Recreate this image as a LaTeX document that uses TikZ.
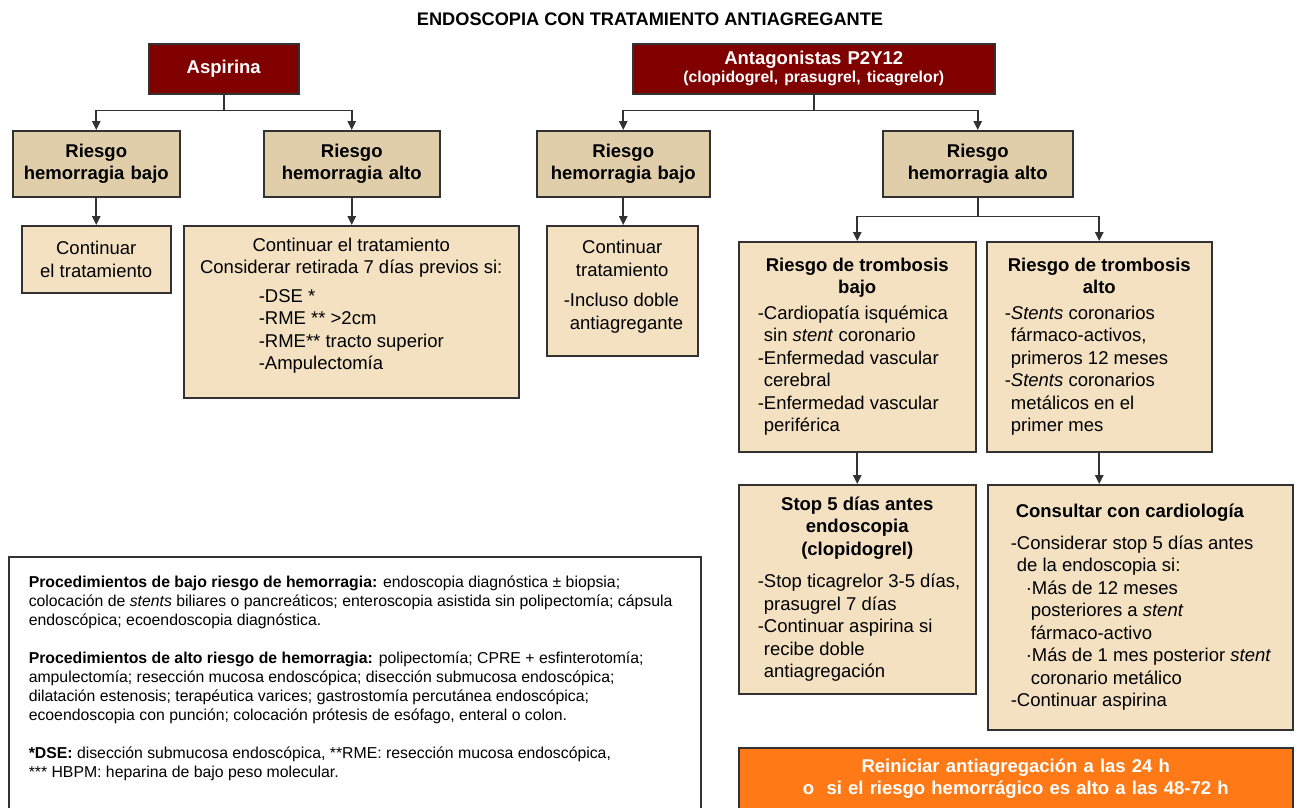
\documentclass[tikz,border=0pt]{standalone}
\usepackage{fontspec}
\setmainfont{Liberation Sans}
\usetikzlibrary{arrows.meta}
\definecolor{granate}{RGB}{128,0,0}
\definecolor{tostado}{RGB}{224,206,170}
\definecolor{crema}{RGB}{244,225,194}
\definecolor{naranja}{RGB}{255,122,22}
\definecolor{borde}{RGB}{50,50,50}
\newcommand{\cajatexto}[3]{\begin{minipage}[c][#2][c]{#1}#3\end{minipage}}

\tikzset{
  cajaroja/.style={draw=borde, line width=1.5pt, fill=granate, text=white,
    font=\bfseries\fontsize{18.5}{18}\selectfont, align=center,
    anchor=north west, inner xsep=0pt, minimum height=50pt},
  riesgo/.style={draw=borde, line width=1.5pt, fill=tostado,
    font=\bfseries\fontsize{18.5}{22.5}\selectfont, align=center,
    anchor=north west, inner xsep=0pt, minimum height=66pt},
  texto/.style={draw=borde, line width=1.5pt, fill=crema,
    font=\fontsize{18.5}{22.5}\selectfont, anchor=north west, inner sep=0pt},
  linea/.style={draw=borde, line width=1.6pt},
  flecha/.style={linea, -{Triangle[length=9pt, width=8.5pt]}}
}

\begin{document}
\begin{tikzpicture}[x=1pt, y=-1pt]
  \useasboundingbox[fill=white] (0,0) rectangle (1297,807);

  \node[font=\bfseries\fontsize{18.2}{20}\selectfont] (titulo) at (650,19) {ENDOSCOPIA CON TRATAMIENTO ANTIAGREGANTE};

  \node[cajaroja, text width=150pt] (asp) at (148,43) {Aspirina};
  \node[cajaroja, text width=362pt] (p2y) at (632,43) {Antagonistas P2Y12\\{\fontsize{15.8}{18}\selectfont (clopidogrel, prasugrel, ticagrelor)}};

  \node[riesgo, text width=167pt] (rba) at (12,130) {Riesgo\\hemorragia bajo};
  \node[riesgo, text width=176pt] (raa) at (263,130) {Riesgo\\hemorragia alto};
  \node[riesgo, text width=173pt] (rbp) at (536,130) {Riesgo\\hemorragia bajo};
  \node[riesgo, text width=190pt] (rap) at (882,130) {Riesgo\\hemorragia alto};

  \node[texto] (cta) at (21,225) {\cajatexto{149pt}{67pt}{%
    \centering Continuar\\el tratamiento}};
  \node[texto] (cons) at (183,225) {\cajatexto{335pt}{172pt}{%
    \vspace*{-12pt}
    {\centering Continuar el tratamiento\\Considerar retirada 7 días previos si:\par}
    \vspace{6pt}\leftskip=75pt
    -DSE *\\
    -RME ** >2cm\\
    -RME** tracto superior\\
    -Ampulectomía}};
  \node[texto] (ctp) at (546,225) {\cajatexto{151pt}{130pt}{%
    \vspace*{-8pt}
    {\centering Continuar\\tratamiento\par}
    \vspace{8pt}\leftskip=17pt
    -Incluso doble\\
    \phantom{-}antiagregante}};

  \node[texto] (tbb) at (738,241) {\cajatexto{237pt}{210pt}{%
    {\centering\bfseries Riesgo de trombosis\\bajo\par}
    \vspace{3pt}\leftskip=19pt
    -Cardiopatía isquémica\\
    \phantom{-}sin \emph{stent} coronario\\
    -Enfermedad vascular\\
    \phantom{-}cerebral\\
    -Enfermedad vascular\\
    \phantom{-}periférica}};
  \node[texto] (tba) at (986,241) {\cajatexto{225pt}{210pt}{%
    {\centering\bfseries Riesgo de trombosis\\alto\par}
    \vspace{3pt}\leftskip=18pt
    -\emph{Stents} coronarios\\
    \phantom{-}fármaco-activos,\\
    \phantom{-}primeros 12 meses\\
    -\emph{Stents} coronarios\\
    \phantom{-}metálicos en el\\
    \phantom{-}primer mes}};

  \node[texto] (stop) at (738,484) {\cajatexto{237pt}{209pt}{%
    {\centering\bfseries Stop 5 días antes\\endoscopia\\(clopidogrel)\par}
    \vspace{10pt}\leftskip=19pt
    -Stop ticagrelor 3-5 días,\\
    \phantom{-}prasugrel 7 días\\
    -Continuar aspirina si\\
    \phantom{-}recibe doble\\
    \phantom{-}antiagregación}};
  \node[texto] (card) at (987,484) {\cajatexto{305pt}{245pt}{%
    {\leftskip=28pt\bfseries Consultar con cardiología\par}
    \vspace{9pt}\leftskip=23pt
    -Considerar stop 5 días antes\\
    \phantom{-}de la endoscopia si:\\
    \hspace*{15pt}·Más de 12 meses\\
    \hspace*{20pt}posteriores a \emph{stent}\\
    \hspace*{20pt}fármaco-activo\\
    \hspace*{15pt}·Más de 1 mes posterior \emph{stent}\\
    \hspace*{20pt}coronario metálico\\
    -Continuar aspirina}};

  \node[draw=borde, line width=1.5pt, fill=naranja, text=white,
    font=\bfseries\fontsize{18.5}{22.5}\selectfont, align=center,
    anchor=north west, inner xsep=0pt, text width=554pt, minimum height=62pt] (reini) at (738,747)
    {Reiniciar antiagregación a las 24 h\\o\ \ si el riesgo hemorrágico es alto a las 48-72 h};

  \node[draw=borde, line width=1.5pt, fill=white, anchor=north west,
    inner xsep=20pt, inner ysep=19.5pt] (nota) at (8,556) {%
    \begin{minipage}{652pt}
      \fontsize{15.8}{19}\selectfont\raggedright
      \textbf{Procedimientos de bajo riesgo de hemorragia:} endoscopia diagnóstica ± biopsia;\\
      colocación de \emph{stents} biliares o pancreáticos; enteroscopia asistida sin polipectomía; cápsula\\
      endoscópica; ecoendoscopia diagnóstica.\\[19pt]
      \textbf{Procedimientos de alto riesgo de hemorragia:} polipectomía; CPRE + esfinterotomía;\\
      ampulectomía; resección mucosa endoscópica; disección submucosa endoscópica;\\
      dilatación estenosis; terapéutica varices; gastrostomía percutánea endoscópica;\\
      ecoendoscopia con punción; colocación prótesis de esófago, enteral o colon.\\[19pt]
      \textbf{*DSE:} disección submucosa endoscópica, **RME: resección mucosa endoscópica,\\
      {}*** HBPM: heparina de bajo peso molecular.\par
      \rule{0pt}{40pt}
    \end{minipage}};

  \draw[flecha] (asp.south) -- ++(0,16) -| (rba.north);
  \draw[flecha] (asp.south) -- ++(0,16) -| (raa.north);
  \draw[flecha] (p2y.south) -- ++(0,16) -| (rbp.north);
  \draw[flecha] (p2y.south) -- ++(0,16) -| (rap.north);

  \draw[flecha] (rba.south) -- (rba.south |- cta.north);
  \draw[flecha] (raa.south) -- (raa.south |- cons.north);
  \draw[flecha] (rbp.south) -- (rbp.south |- ctp.north);

  \draw[flecha] (rap.south) -- ++(0,19) -| (tbb.north);
  \draw[flecha] (rap.south) -- ++(0,19) -| (tba.north);

  \draw[flecha] (tbb.south) -- (tbb.south |- stop.north);
  \draw[flecha] (tba.south) -- (tba.south |- card.north);
\end{tikzpicture}
\end{document}
